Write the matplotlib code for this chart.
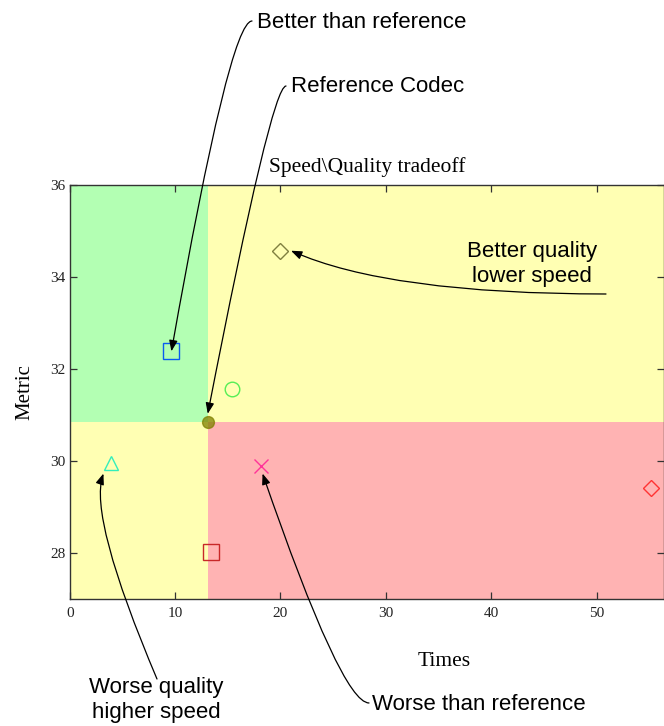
import matplotlib.pyplot as plt
from matplotlib.patches import Rectangle

# codec results: (time, metric)
times = [9.6, 20.0, 15.4, 13.4, 3.9, 18.2, 55.2]
metric = [32.4, 34.57, 31.58, 28.03, 29.95, 29.9, 29.42]
markers = ['s', 'D', 'o', 's', '^', 'x', 'D']
colors = ['#0a5cf0', '#808040', '#55ee55', '#c82828', '#33eebb', '#ff3399', '#ff3333']
sizes = [11, 8, 10.5, 11, 10.5, 10.5, 8]

ref_time, ref_metric = 13.1, 30.86

xticks = [0, 10, 20, 30, 40, 50]
yticks = [28, 30, 32, 34, 36]
xlim = (0, 56.4)
ylim = (27, 36)

# annotation texts and where arrows point (data coords)
notes = ['Better than reference', 'Reference Codec', 'Better quality\nlower speed',
         'Worse quality\nhigher speed', 'Worse than reference']
tips = [(9.65, 32.39), (13.1, 31.03), (21.0, 34.58), (3.2, 29.73), (18.3, 29.73)]

W, H = 664, 726
fig = plt.figure(figsize=(W / 100, H / 100), dpi=100)
ax = fig.add_axes([0.105, 0.175, 0.895, 0.5695])
ax.set_xlim(*xlim)
ax.set_ylim(*ylim)

# quadrant backgrounds around the reference codec
green, yellow, red = '#b3ffb3', '#ffffb3', '#ffb3b3'
x0, x1 = xlim
y0, y1 = ylim
ax.add_patch(Rectangle((x0, ref_metric), ref_time - x0, y1 - ref_metric, color=green, lw=0, zorder=0))
ax.add_patch(Rectangle((ref_time, ref_metric), x1 - ref_time, y1 - ref_metric, color=yellow, lw=0, zorder=0))
ax.add_patch(Rectangle((x0, y0), ref_time - x0, ref_metric - y0, color=yellow, lw=0, zorder=0))
ax.add_patch(Rectangle((ref_time, y0), x1 - ref_time, ref_metric - y0, color=red, lw=0, zorder=0))

for t, m, mk, c, s in zip(times, metric, markers, colors, sizes):
    ax.plot(t, m, marker=mk, ms=s, mfc='none', mec=c, mew=1.0, ls='none', zorder=3)
ax.plot(ref_time, ref_metric, marker='o', ms=8.5, color='#808000', alpha=0.75, ls='none', zorder=3)

serif = 'Liberation Serif'
sans = 'Liberation Sans'
ax.set_xticks(xticks)
ax.set_yticks(yticks)
ax.tick_params(direction='in', top=True, right=True, length=5, width=0.9,
               color='#333333', labelcolor='#222222', labelsize=11)
ax.tick_params(axis='x', pad=6)
ax.tick_params(axis='y', pad=3)
for lab in ax.get_xticklabels() + ax.get_yticklabels():
    lab.set_family(serif)
for sp in ax.spines.values():
    sp.set_color('#333333')
    sp.set_linewidth(1.0)

ax.set_title('Speed\\Quality tradeoff', family=serif, fontsize=15.5, pad=10)
ax.set_xlabel('Times', family=serif, fontsize=15.5)
ax.set_ylabel('Metric', family=serif, fontsize=15)
ax.xaxis.set_label_coords((444 - 69.7) / 594, -(652 - 599) / 413.5)
ax.yaxis.set_label_coords(-(69.7 - 34) / 594, 0.5)

# text positions in image pixels (x, y from top), alignment
text_pos = [(257, 22, 'left'), (291, 86, 'left'), (532, 264, 'center'),
            (156, 700, 'center'), (372, 704, 'left')]
arrow_start = [(252, 21), (286, 86), (606, 294), (157, 679), (369, 703)]
arrow_conn = ['angle3,angleA=180,angleB=80', 'angle3,angleA=180,angleB=79',
              'angle3,angleA=180,angleB=-24', 'angle3,angleA=113,angleB=-109',
              'angle3,angleA=180,angleB=-71']

for note, (px, py, ha), (sx, sy), tip, conn in zip(notes, text_pos, arrow_start, tips, arrow_conn):
    fig.text(px / W, 1 - py / H, note, family=sans, fontsize=16, ha=ha, va='center',
             linespacing=1.25)
    ax.annotate('', xy=tip, xycoords='data', xytext=(sx, H - sy), textcoords='figure pixels',
                arrowprops=dict(arrowstyle='-|>,head_length=0.65,head_width=0.25',
                                connectionstyle=conn, color='black', lw=0.9,
                                shrinkA=0, shrinkB=0),
                annotation_clip=False, zorder=5)

fig.savefig('out.png', dpi=100)
